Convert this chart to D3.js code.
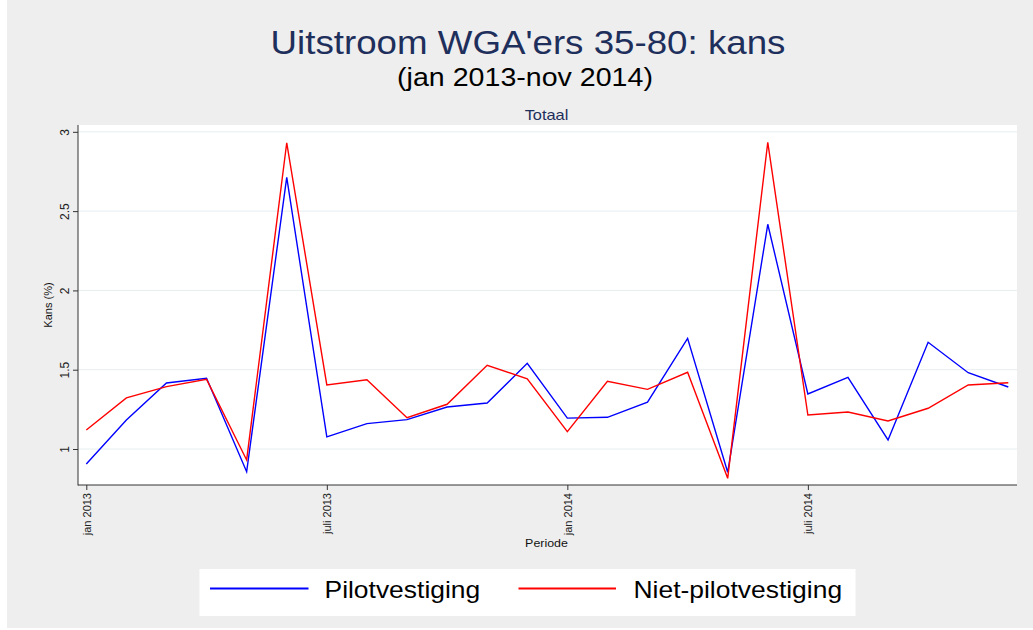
<!DOCTYPE html>
<html lang="nl">
<head>
<meta charset="utf-8">
<title>Uitstroom WGA'ers 35-80: kans</title>
<style>
  html, body { margin: 0; padding: 0; background: #fff; }
  svg { display: block; font-family: "Liberation Sans", Arial, sans-serif; }
</style>
</head>
<body>
<div id="app"></div>
<script src="https://d3js.org/d3.v7.min.js"></script>
<script>
// months jan 2013 .. dec 2014 (index = position on x axis)
const months = ["2013-01","2013-02","2013-03","2013-04","2013-05","2013-06",
  "2013-07","2013-08","2013-09","2013-10","2013-11","2013-12",
  "2014-01","2014-02","2014-03","2014-04","2014-05","2014-06",
  "2014-07","2014-08","2014-09","2014-10","2014-11","2014-12"];

const pilot = [0.905, 1.183, 1.416, 1.446, 0.857, 2.713, 1.076, 1.160, 1.185, 1.265, 1.290, 1.540,
  1.195, 1.200, 1.296, 1.698, 0.853, 2.417, 1.347, 1.452, 1.057, 1.673, 1.481, 1.391];

const nietPilot = [1.120, 1.322, 1.393, 1.439, 0.931, 2.931, 1.404, 1.437, 1.197, 1.282, 1.528, 1.443,
  1.109, 1.427, 1.376, 1.484, 0.815, 2.934, 1.214, 1.233, 1.177, 1.257, 1.404, 1.418];

const xTicks = ["2013-01", "2013-07", "2014-01", "2014-07"];
const xTickLabels = ["jan 2013", "juli 2013", "jan 2014", "juli 2014"];
const yTicks = [1, 1.5, 2, 2.5, 3];

const seriesNames = ["Pilotvestiging", "Niet-pilotvestiging"];
const seriesColors = ["#0000ff", "#ff0000"];

const width = 1033, height = 630;
const plot = {left: 78, right: 1017, top: 125, bottom: 485};
const sx = 1.13; // the original export is a little stretched horizontally

const svg = d3.select("#app").append("svg")
    .attr("width", width)
    .attr("height", height);

// graph background
svg.append("rect")
    .attr("x", 7).attr("y", 0)
    .attr("width", width - 7).attr("height", height - 2)
    .attr("fill", "#eeeeee");

svg.append("rect")
    .attr("x", plot.left).attr("y", plot.top)
    .attr("width", plot.right - plot.left).attr("height", plot.bottom - plot.top)
    .attr("fill", "#fff");

const x = d3.scaleLinear()
    .domain([0, months.length - 1])
    .range([86.3, 1008.3]);

const y = d3.scaleLinear()
    .domain([0.773, 3.043])
    .range([plot.bottom, plot.top]);

// grid
svg.append("g")
  .selectAll("line")
  .data(yTicks)
  .join("line")
    .attr("x1", plot.left).attr("x2", plot.right)
    .attr("y1", d => y(d)).attr("y2", d => y(d))
    .attr("stroke", "#e6eef0")
    .attr("stroke-width", 1);

// y axis
const yAxis = svg.append("g")
    .attr("transform", `translate(${plot.left},0)`)
    .call(d3.axisLeft(y).tickValues(yTicks).tickFormat(d3.format("")).tickSize(5).tickSizeOuter(0));
yAxis.select(".domain").remove();
yAxis.selectAll(".tick line").attr("stroke", "#333");
yAxis.selectAll(".tick text")
    .attr("transform", "rotate(-90)")
    .attr("x", 0).attr("y", -9.5)
    .attr("dy", 0)
    .attr("text-anchor", "middle")
    .attr("font-size", 12)
    .attr("font-family", "Liberation Sans, Arial, sans-serif")
    .attr("fill", "#222");

// x axis
const xAxis = svg.append("g")
    .attr("transform", `translate(0,${plot.bottom})`)
    .call(d3.axisBottom(x)
      .tickValues(xTicks.map(m => months.indexOf(m)))
      .tickFormat((d, i) => xTickLabels[i])
      .tickSize(5).tickSizeOuter(0));
xAxis.select(".domain").remove();
xAxis.selectAll(".tick line").attr("stroke", "#333");
xAxis.selectAll(".tick text")
    .attr("transform", "rotate(-90)")
    .attr("x", -8).attr("y", 4)
    .attr("dy", 0)
    .attr("text-anchor", "end")
    .attr("font-size", 11)
    .attr("font-family", "Liberation Sans, Arial, sans-serif")
    .attr("fill", "#222");

// axis lines
svg.append("line")
    .attr("x1", plot.left).attr("x2", plot.left)
    .attr("y1", plot.top).attr("y2", plot.bottom + 0.5)
    .attr("stroke", "#333");
svg.append("line")
    .attr("x1", plot.left).attr("x2", plot.right)
    .attr("y1", plot.bottom).attr("y2", plot.bottom)
    .attr("stroke", "#333");

// lines
const line = d3.line()
    .x((d, i) => x(i))
    .y(d => y(d));

[pilot, nietPilot].forEach((values, k) => {
  svg.append("path")
      .datum(values)
      .attr("fill", "none")
      .attr("stroke", seriesColors[k])
      .attr("stroke-width", 1.4)
      .attr("stroke-linejoin", "miter")
      .attr("d", line);
});

// texts
function stretched(txt, px, py, size, color, anchor) {
  return svg.append("text")
      .attr("transform", `translate(${px},${py}) scale(${sx},1)`)
      .attr("text-anchor", anchor || "middle")
      .attr("font-size", size)
      .attr("fill", color)
      .text(txt);
}

stretched("Uitstroom WGA'ers 35-80: kans", 528, 54, 32.5, "#1e2f5c");
stretched("(jan 2013-nov 2014)", 525, 86, 25.3, "#000");
stretched("Totaal", 546.5, 119.5, 14.5, "#1e2f5c");
stretched("Periode", 546.5, 547, 11, "#111");

svg.append("text")
    .attr("transform", `translate(51.5,${(plot.top + plot.bottom) / 2}) rotate(-90)`)
    .attr("text-anchor", "middle")
    .attr("font-size", 11)
    .attr("fill", "#111")
    .text("Kans (%)");

// legend
const legend = svg.append("g");
legend.append("rect")
    .attr("x", 199.5).attr("y", 569)
    .attr("width", 855.5 - 199.5).attr("height", 47)
    .attr("fill", "#fff");

const legendItems = [
  {x1: 210, x2: 308.5, tx: 324.5},
  {x1: 518.5, x2: 616, tx: 633.5}
];
legendItems.forEach((it, k) => {
  legend.append("line")
      .attr("x1", it.x1).attr("x2", it.x2)
      .attr("y1", 588.5).attr("y2", 588.5)
      .attr("stroke", seriesColors[k])
      .attr("stroke-width", 1.8);
  stretched(seriesNames[k], it.tx, 598, 23.4, "#000", "start");
});
</script>
</body>
</html>
